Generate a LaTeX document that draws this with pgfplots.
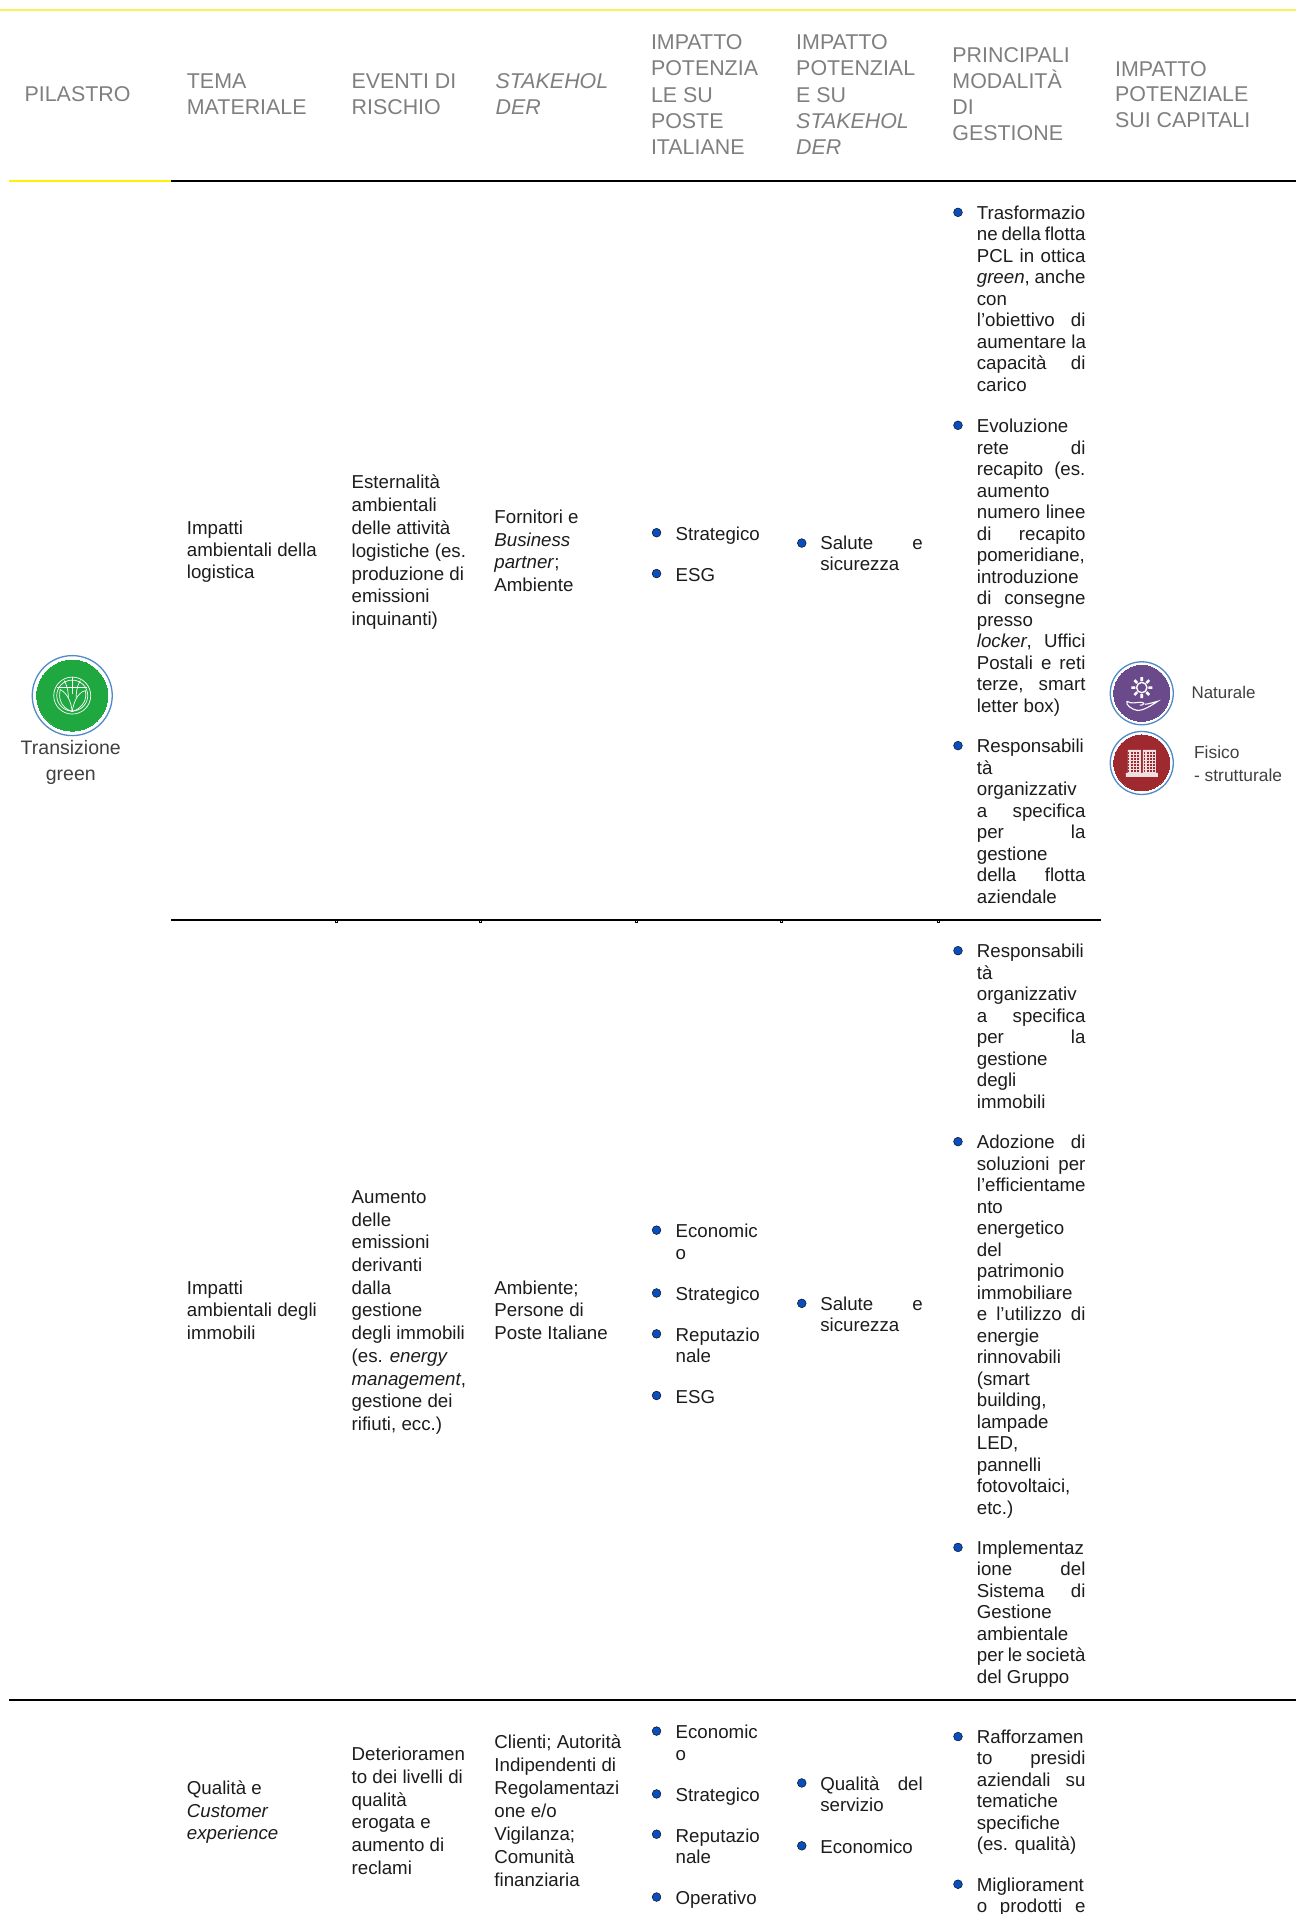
\documentclass[border=0pt]{standalone}
\usepackage{fontspec}
\setmainfont{Liberation Sans}
\usepackage{pgfplots}
\pgfplotsset{compat=1.18}
\definecolor{bodyc}{HTML}{1C1C1C}
\definecolor{headc}{HTML}{7F7F7F}
\definecolor{capc}{HTML}{404040}
\definecolor{bull}{HTML}{0A4DBD}
\definecolor{topy}{HTML}{FBEF5A}
\definecolor{ring}{HTML}{4F8AC9}
\definecolor{gr}{HTML}{1FA83F}
\definecolor{pu}{HTML}{6B4A8B}
\definecolor{re}{HTML}{9E2A2F}
\newcommand\colw{100bp}
\newcommand\J[1]{\makebox[\colw][s]{#1}}
% x, y of the centre of the first line, width of justified lines, line spacing, lines
\newcommand\cell[5]{\node[anchor=base west,inner sep=0pt,text=bodyc] at (axis cs:#1,#2) [yshift=-6.9bp] {\renewcommand\colw{#3bp}\parbox[t]{200bp}{\fontsize{18.7bp}{#4bp}\selectfont\raggedright #5}};}
\newcommand\head[4]{\node[anchor=base west,inner sep=0pt,text=headc] at (axis cs:#1,#2) [yshift=-7.7bp] {\parbox[t]{170bp}{\fontsize{21.4bp}{#3bp}\selectfont\raggedright #4}};}
\newcommand\capt[5]{\node[anchor=#3,inner sep=0pt,text=capc] at (axis cs:#1,#2) [yshift=-6.5bp] {\fontsize{#4bp}{#4bp}\selectfont #5};}
\begin{document}
\begin{tikzpicture}
\begin{axis}[
  scale only axis, width=1296bp, height=1914bp,
  xmin=0, xmax=1062, ymin=0, ymax=1568.4, y dir=reverse,
  axis lines=none, clip=false]
\path[use as bounding box] (axis cs:0,0) rectangle (axis cs:1062,1568.4);
\coordinate (gicon) at (axis cs:59.2,570);
\coordinate (picon) at (axis cs:935.6,568.1);
\coordinate (ricon) at (axis cs:935.6,625.2);
% rules
\addplot[topy, line width=2bp, forget plot] coordinates {(0,7.8) (1062,7.8)};
\addplot[black, line width=2bp, forget plot] coordinates {(140,148.3) (1062,148.3)};
\addplot[yellow, line width=2bp, forget plot] coordinates {(7.5,148.3) (140,148.3)};
\addplot[black, line width=2bp, forget plot] coordinates {(140.5,754) (902,754)};
\addplot[black, line width=2bp, forget plot] coordinates {(7.5,1393) (1062,1393)};
% small notches in the row rule at the cell boundaries
\addplot[only marks, mark=square*, mark size=.8bp, mark options={draw=none, fill=white}, forget plot] coordinates {(275.3,754.7) (393.3,754.7) (521.2,754.7) (640,754.7) (768.6,754.7)};
% bullets
\addplot[only marks, mark=*, mark size=4.4bp, mark options={draw=none, fill=bull}, forget plot] coordinates {
 (538,436.5) (538,470) (657,445) (785,174) (785,348.5) (785,611)
 (538,1008) (538,1059.5) (538,1093) (538,1143.5) (657,1068) (785,779) (785,935.5) (785,1268)
 (538,1418.5) (538,1470) (538,1503) (538,1554.5) (657,1461) (657,1512.5) (785,1423) (785,1544)};
% icons
\addplot[only marks, mark=*, mark size=40bp, mark options={draw=ring, fill=white, line width=1.3bp}, forget plot] coordinates {(59.2,570)};
\addplot[only marks, mark=*, mark size=35.5bp, mark options={draw=gr, fill=gr, line width=0pt}, forget plot] coordinates {(59.2,570)};
\addplot[only marks, mark=*, mark size=31.5bp, mark options={draw=ring, fill=white, line width=1.3bp}, forget plot] coordinates {(935.6,568.1) (935.6,625.2)};
\addplot[only marks, mark=*, mark size=28bp, mark options={draw=pu, fill=pu, line width=0pt}, forget plot] coordinates {(935.6,568.1)};
\addplot[only marks, mark=*, mark size=28bp, mark options={draw=re, fill=re, line width=0pt}, forget plot] coordinates {(935.6,625.2)};
% icon captions
\capt{58}{613}{base}{19.5}{Transizione}
\capt{58}{634.5}{base}{19.5}{green}
\capt{976.3}{567}{base west}{16.9}{Naturale}
\capt{978.3}{616}{base west}{17.4}{Fisico}
\capt{978.3}{635}{base west}{17.4}{- strutturale}
% header
\head{20}{77}{26.6}{PILASTRO}
\head{153}{66}{26.6}{TEMA\\MATERIALE}
\head{288}{66}{26.6}{EVENTI DI\\RISCHIO}
\head{406}{66}{26.6}{\textit{STAKEHOL}\\\textit{DER}}
\head{533.3}{34.5}{26.1}{IMPATTO\\POTENZIA\\LE SU\\POSTE\\ITALIANE}
\head{652.3}{34.5}{26.1}{IMPATTO\\POTENZIAL\\E SU\\\textit{STAKEHOL}\\\textit{DER}}
\head{780.3}{44.5}{26.2}{PRINCIPALI\\MODALITÀ\\DI\\GESTIONE}
\head{913.6}{56}{25.6}{IMPATTO\\POTENZIALE\\SUI CAPITALI}
% row 1
\cell{153}{432}{120}{22.4}{Impatti\\ambientali della\\logistica}
\cell{288}{395}{120}{22.8}{Esternalità\\ambientali\\delle attività\\logistiche (es.\\produzione di\\emissioni\\inquinanti)}
\cell{405}{423.5}{125}{22.6}{Fornitori e\\\textit{Business}\\\textit{partner};\\Ambiente}
\cell{553.5}{437}{100}{21.5}{Strategico}
\cell{553.5}{470.5}{100}{21.5}{ESG}
\cell{672}{445}{102.5}{21}{\J{Salute e}\\sicurezza}
\cell{800.3}{174}{108.6}{21.5}{Trasformazio\\\J{ne della flotta}\\\J{PCL in ottica}\\\J{\textit{green}, anche}\\con\\\J{l’obiettivo di}\\aumentare la\\\J{capacità di}\\carico}
\cell{800.3}{349}{108.6}{21.5}{Evoluzione\\\J{rete di}\\\J{recapito (es.}\\aumento\\\J{numero linee}\\\J{di recapito}\\pomeridiane,\\introduzione\\\J{di consegne}\\presso\\\J{\textit{locker}, Uffici}\\\J{Postali e reti}\\\J{terze, smart}\\letter box)}
\cell{800.3}{611}{108.6}{21.5}{Responsabili\\tà\\organizzativ\\\J{a specifica}\\\J{per la}\\gestione\\\J{della flotta}\\aziendale}
% row 2
\cell{153}{1055}{120}{22.4}{Impatti\\ambientali degli\\immobili}
\cell{288}{980.5}{120}{22.7}{Aumento\\delle\\emissioni\\derivanti\\dalla\\gestione\\degli immobili\\(es. \textit{energy}\\\textit{management},\\gestione dei\\rifiuti, ecc.)}
\cell{405}{1055}{125}{22.5}{Ambiente;\\Persone di\\Poste Italiane}
\cell{553.5}{1008.5}{100}{21.5}{Economic\\o}
\cell{553.5}{1060}{100}{21.5}{Strategico}
\cell{553.5}{1093.5}{100}{21.5}{Reputazio\\nale}
\cell{553.5}{1144}{100}{21.5}{ESG}
\cell{672}{1068}{102.5}{21}{\J{Salute e}\\sicurezza}
\cell{800.3}{779}{108.6}{21.5}{Responsabili\\tà\\organizzativ\\\J{a specifica}\\\J{per la}\\gestione\\degli\\immobili}
\cell{800.3}{935.5}{108.6}{21.5}{\J{Adozione di}\\\J{soluzioni per}\\l’efficientame\\nto\\energetico\\del\\patrimonio\\immobiliare\\\J{e l’utilizzo di}\\energie\\rinnovabili\\(smart\\building,\\lampade\\LED,\\pannelli\\fotovoltaici,\\etc.)}
\cell{800.3}{1268}{108.6}{21.5}{Implementaz\\\J{ione del}\\\J{Sistema di}\\Gestione\\ambientale\\\J{per le società}\\del Gruppo}
% row 3
\cell{153}{1465}{120}{22.5}{Qualità e\\\textit{Customer}\\\textit{experience}}
\cell{288}{1437}{120}{22.8}{Deterioramen\\to dei livelli di\\qualità\\erogata e\\aumento di\\reclami}
\cell{405}{1427.5}{125}{22.9}{Clienti; Autorità\\Indipendenti di\\Regolamentazi\\one e/o\\Vigilanza;\\Comunità\\finanziaria}
\cell{553.5}{1419}{100}{21.5}{Economic\\o}
\cell{553.5}{1470.5}{100}{21.5}{Strategico}
\cell{553.5}{1504}{100}{21.5}{Reputazio\\nale}
\cell{553.5}{1555}{100}{21.5}{Operativo}
\cell{672}{1461.5}{102.5}{21.5}{\J{Qualità del}\\servizio}
\cell{672}{1513}{102.5}{21.5}{Economico}
\cell{800.3}{1423}{108.6}{21.5}{Rafforzamen\\\J{to presidi}\\\J{aziendali su}\\tematiche\\specifiche\\(es. qualità)}
\cell{800.3}{1544}{108.6}{21.5}{Migliorament\\\J{o prodotti e}}
\end{axis}
% globe and leaves
\begin{scope}[shift={(gicon)}, x=1bp, y=1bp, white, line width=.7bp]
 \draw (0,0) circle (18.5);
 \draw (0,0) circle (15.5);
 \draw (-8,15) .. controls (-4,8) and (-4,2) .. (-4,-2);
 \draw (8,15) .. controls (4,8) and (4,2) .. (4,-2);
 \draw (0,18.5) -- (0,2);
 \draw (-15,8) -- (15,8);
 \draw (0,-16) .. controls (-12,-12) and (-14,-2) .. (-12,6) .. controls (-4,2) and (-1,-8) .. (0,-16);
 \draw (0,-16) .. controls (12,-12) and (15,-2) .. (13,5) .. controls (5,3) and (1,-8) .. (0,-16);
\end{scope}
% sun and hand
\begin{scope}[shift={(picon)}, x=1bp, y=1bp, white]
 \draw[line width=1.4bp] (0,5.7) circle (5.2);
 \draw[line width=2.6bp] (0,12.2)--(0,16.2) (0,-.8)--(0,-4.8) (6.5,5.7)--(10.5,5.7) (-6.5,5.7)--(-10.5,5.7)
   (4.6,10.3)--(7.4,13.1) (-4.6,10.3)--(-7.4,13.1) (4.6,1.1)--(7.4,-1.7) (-4.6,1.1)--(-7.4,-1.7);
 \draw[line width=1.1bp] (-15,-8) .. controls (-10,-11) and (-6,-9) .. (-1,-9) .. controls (3,-9) and (3,-12) .. (-2,-12)
   (-15,-8) .. controls (-16,-12) and (-10,-16) .. (-5,-17) .. controls (1,-18) and (10,-12) .. (16,-8) .. controls (12,-9) and (6,-11) .. (3,-11);
\end{scope}
% building
\begin{scope}[shift={(ricon)}, x=1bp, y=1bp]
 \fill[white, opacity=.85] (-14,-11) rectangle (-1,13) (1,-11) rectangle (14,13) (-16,-14) rectangle (16,-10);
 \draw[re, line width=1.3bp, dash pattern=on 1.6bp off 1.6bp] (-14,10)--(14,10) (-14,7)--(14,7) (-14,4)--(14,4) (-14,1)--(14,1) (-14,-2)--(14,-2) (-14,-5)--(14,-5) (-14,-8)--(14,-8);
\end{scope}
\end{tikzpicture}
\end{document}
